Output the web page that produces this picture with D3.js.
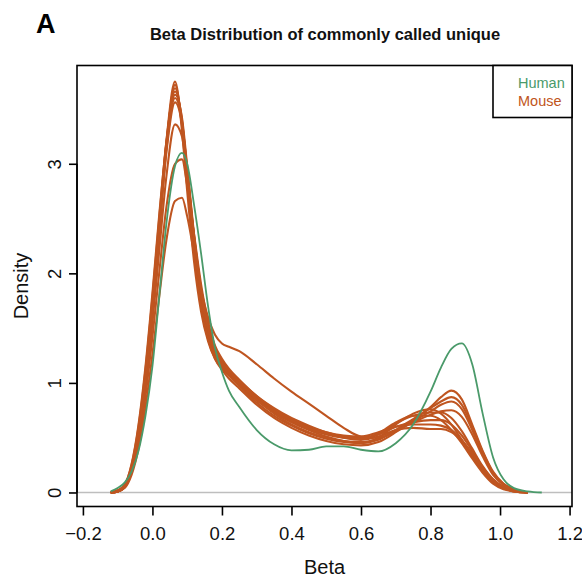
<!DOCTYPE html>
<html lang="en">
<head>
<meta charset="utf-8">
<title>Beta Distribution of commonly called unique</title>
<script src="https://d3js.org/d3.v7.min.js"></script>
<style>
  body { margin: 0; background: #fff; }
  svg { font-family: "Liberation Sans", Arial, Helvetica, sans-serif; }
</style>
</head>
<body>
<script>
"use strict";

// tick labels
const xTicks = [-0.2, 0.0, 0.2, 0.4, 0.6, 0.8, 1.0, 1.2];
const yTicks = [0, 1, 2, 3];

const betaGrid = [-0.14, -0.12, -0.10, -0.08, -0.06, -0.04, -0.02, 0.00, 0.02, 0.04,
  0.065, 0.085, 0.10, 0.12, 0.14, 0.16, 0.18, 0.20, 0.22, 0.25,
  0.30, 0.35, 0.40, 0.45, 0.50, 0.55, 0.60, 0.65, 0.70, 0.75,
  0.80, 0.83, 0.86, 0.89, 0.92, 0.95, 0.98, 1.01, 1.04, 1.08, 1.12, 1.14];

// density, human
const human = [null, 0.01, 0.04, 0.09, 0.19, 0.38, 0.70, 1.15, 1.80, 2.45,
  2.98, 3.10, 3.00, 2.62, 2.18, 1.70, 1.32, 1.10, 0.93, 0.78,
  0.57, 0.44, 0.385, 0.39, 0.42, 0.42, 0.39, 0.375, 0.45, 0.62,
  0.92, 1.14, 1.31, 1.36, 1.17, 0.72, 0.32, 0.12, 0.04, 0.01, 0.00, null];

// density, mouse samples
const mouse1 = [null, 0.00, 0.01, 0.06, 0.22, 0.55, 1.05, 1.70, 2.45, 3.20,
  3.75, 3.30, 2.75, 2.10, 1.65, 1.38, 1.22, 1.13, 1.07, 0.98,
  0.84, 0.73, 0.64, 0.57, 0.51, 0.47, 0.45, 0.50, 0.62, 0.72,
  0.76, 0.72, 0.62, 0.48, 0.33, 0.19, 0.09, 0.04, 0.01, 0.00, null, null];
const mouse2 = [null, 0.00, 0.01, 0.05, 0.20, 0.52, 1.00, 1.65, 2.40, 3.15,
  3.72, 3.35, 2.85, 2.20, 1.72, 1.40, 1.22, 1.12, 1.04, 0.95,
  0.80, 0.68, 0.59, 0.52, 0.47, 0.44, 0.43, 0.46, 0.55, 0.66,
  0.78, 0.87, 0.93, 0.85, 0.62, 0.38, 0.19, 0.08, 0.03, 0.00, null, null];
const mouse3 = [null, 0.00, 0.01, 0.06, 0.23, 0.56, 1.06, 1.72, 2.46, 3.18,
  3.69, 3.38, 2.90, 2.25, 1.76, 1.44, 1.25, 1.15, 1.07, 0.97,
  0.82, 0.70, 0.61, 0.54, 0.49, 0.46, 0.45, 0.48, 0.57, 0.67,
  0.77, 0.83, 0.87, 0.80, 0.60, 0.37, 0.18, 0.08, 0.03, 0.00, null, null];
const mouse4 = [null, 0.00, 0.02, 0.07, 0.25, 0.60, 1.12, 1.78, 2.52, 3.20,
  3.66, 3.40, 2.92, 2.30, 1.80, 1.47, 1.27, 1.16, 1.08, 0.99,
  0.85, 0.74, 0.65, 0.58, 0.53, 0.50, 0.49, 0.53, 0.63, 0.70,
  0.73, 0.73, 0.68, 0.56, 0.40, 0.24, 0.12, 0.05, 0.02, 0.00, null, null];
const mouse5 = [null, 0.00, 0.01, 0.05, 0.19, 0.50, 0.98, 1.62, 2.38, 3.12,
  3.63, 3.42, 2.98, 2.35, 1.85, 1.50, 1.29, 1.17, 1.09, 1.00,
  0.86, 0.75, 0.66, 0.59, 0.54, 0.51, 0.50, 0.53, 0.60, 0.64,
  0.66, 0.66, 0.62, 0.52, 0.38, 0.23, 0.11, 0.05, 0.02, 0.00, null, null];
const mouse6 = [null, 0.00, 0.02, 0.07, 0.26, 0.62, 1.15, 1.82, 2.55, 3.18,
  3.60, 3.38, 2.95, 2.32, 1.83, 1.49, 1.28, 1.17, 1.09, 1.01,
  0.87, 0.76, 0.67, 0.60, 0.55, 0.52, 0.51, 0.55, 0.60, 0.62,
  0.62, 0.61, 0.57, 0.48, 0.35, 0.21, 0.10, 0.04, 0.01, 0.00, null, null];
const mouse7 = [null, 0.00, 0.01, 0.05, 0.19, 0.48, 0.95, 1.55, 2.22, 2.88,
  3.36, 3.25, 2.88, 2.32, 1.86, 1.53, 1.32, 1.20, 1.11, 1.01,
  0.85, 0.72, 0.62, 0.55, 0.50, 0.47, 0.46, 0.49, 0.56, 0.65,
  0.74, 0.80, 0.83, 0.76, 0.57, 0.35, 0.17, 0.07, 0.02, 0.00, null, null];
const mouse8 = [null, 0.00, 0.01, 0.05, 0.18, 0.45, 0.88, 1.42, 2.02, 2.60,
  3.00, 3.04, 2.80, 2.35, 1.90, 1.56, 1.34, 1.22, 1.13, 1.03,
  0.88, 0.76, 0.66, 0.59, 0.54, 0.50, 0.48, 0.51, 0.57, 0.59,
  0.58, 0.58, 0.55, 0.47, 0.36, 0.23, 0.12, 0.05, 0.02, 0.00, null, null];
const mouse9 = [null, 0.00, 0.01, 0.04, 0.16, 0.40, 0.78, 1.26, 1.80, 2.30,
  2.66, 2.69, 2.52, 2.18, 1.85, 1.60, 1.44, 1.36, 1.33, 1.29,
  1.17, 1.04, 0.92, 0.81, 0.70, 0.59, 0.51, 0.50, 0.56, 0.64,
  0.71, 0.74, 0.75, 0.69, 0.53, 0.33, 0.16, 0.07, 0.02, 0.00, null, null];
const mouse10 = [null, 0.00, 0.01, 0.06, 0.22, 0.55, 1.04, 1.68, 2.42, 3.10,
  3.56, 3.36, 2.94, 2.33, 1.84, 1.50, 1.30, 1.19, 1.11, 1.02,
  0.88, 0.77, 0.68, 0.61, 0.55, 0.51, 0.49, 0.54, 0.64, 0.70,
  0.70, 0.66, 0.57, 0.45, 0.31, 0.18, 0.08, 0.03, 0.01, 0.00, null, null];

const mouseSeries = [mouse1, mouse2, mouse3, mouse4, mouse5, mouse6, mouse7, mouse8, mouse9, mouse10];

const legendLabels = ["Human", "Mouse"];
const humanColor = "#4a9a6a";
const mouseColor = "#bf5520";

const w = 582, h = 585;
const box = { left: 77, right: 572, top: 65.5, bottom: 506.5 };

const svg = d3.select("body").append("svg")
  .attr("width", w)
  .attr("height", h);

const x = d3.scaleLinear().domain([-0.217, 1.207]).range([box.left, box.right]);
const y = d3.scaleLinear().domain([-0.128, 3.897]).range([box.bottom, box.top]);

// zero line
svg.append("line")
  .attr("x1", box.left).attr("x2", box.right)
  .attr("y1", y(0)).attr("y2", y(0))
  .attr("stroke", "#bebebe")
  .attr("stroke-width", 1.6);

const line = d3.line()
  .defined(d => d[1] != null)
  .x(d => x(d[0]))
  .y(d => y(d[1]))
  .curve(d3.curveMonotoneX);

function pairs(vals) {
  return betaGrid.map((b, i) => [b, vals[i]]);
}

svg.append("g").selectAll("path")
  .data(mouseSeries)
  .enter().append("path")
  .attr("d", d => line(pairs(d)))
  .attr("fill", "none")
  .attr("stroke", mouseColor)
  .attr("stroke-width", 2.1);

svg.append("path")
  .attr("d", line(pairs(human)))
  .attr("fill", "none")
  .attr("stroke", humanColor)
  .attr("stroke-width", 1.8);

// box
svg.append("rect")
  .attr("x", box.left).attr("y", box.top)
  .attr("width", box.right - box.left)
  .attr("height", box.bottom - box.top)
  .attr("fill", "none")
  .attr("stroke", "#000")
  .attr("stroke-width", 1.6);

// x axis
const xAxis = svg.append("g")
  .attr("transform", "translate(0," + box.bottom + ")")
  .call(d3.axisBottom(x).tickValues(xTicks).tickSize(9).tickFormat(d3.format(".1f")));
xAxis.select(".domain").remove();
xAxis.selectAll(".tick line").attr("stroke", "#000").attr("stroke-width", 1.6);
xAxis.selectAll(".tick text")
  .attr("y", 33.5).attr("dy", 0)
  .attr("fill", "#111")
  .style("font-size", "18.5px");

// y axis
const yAxis = svg.append("g")
  .attr("transform", "translate(" + box.left + ",0)")
  .call(d3.axisLeft(y).tickValues(yTicks).tickSize(8).tickFormat(d3.format("d")));
yAxis.select(".domain").remove();
yAxis.append("line")
  .attr("x1", 0).attr("x2", 0)
  .attr("y1", y(0)).attr("y2", y(3))
  .attr("stroke", "#000").attr("stroke-width", 1.6);
yAxis.selectAll(".tick line").attr("stroke", "#000").attr("stroke-width", 1.6);
yAxis.selectAll(".tick text")
  .attr("transform", "rotate(-90)")
  .attr("x", 0).attr("y", -16).attr("dy", 0)
  .attr("text-anchor", "middle")
  .attr("fill", "#111")
  .style("font-size", "18.5px");

// axis titles
svg.append("text")
  .attr("x", (box.left + box.right) / 2)
  .attr("y", 573.5)
  .attr("text-anchor", "middle")
  .style("font-size", "20px")
  .attr("fill", "#111")
  .text("Beta");

svg.append("text")
  .attr("transform", "translate(28," + ((box.top + box.bottom) / 2) + ") rotate(-90)")
  .attr("text-anchor", "middle")
  .style("font-size", "20px")
  .attr("fill", "#111")
  .text("Density");

// title and panel letter
svg.append("text")
  .attr("x", 325)
  .attr("y", 40)
  .attr("text-anchor", "middle")
  .style("font-size", "16.5px")
  .style("font-weight", "bold")
  .attr("fill", "#111")
  .text("Beta Distribution of commonly called unique");

svg.append("text")
  .attr("x", 36)
  .attr("y", 33)
  .style("font-size", "27px")
  .style("font-weight", "bold")
  .attr("fill", "#000")
  .text("A");

// legend
svg.append("rect")
  .attr("x", 493).attr("y", box.top)
  .attr("width", box.right - 493)
  .attr("height", 117.5 - box.top)
  .attr("fill", "#fff")
  .attr("stroke", "#000")
  .attr("stroke-width", 1.6);

svg.append("g").selectAll("text")
  .data(legendLabels)
  .enter().append("text")
  .attr("x", 518)
  .attr("y", (d, i) => 87.5 + i * 18)
  .style("font-size", "14.5px")
  .attr("fill", (d, i) => i === 0 ? humanColor : mouseColor)
  .text(d => d);
</script>
</body>
</html>
